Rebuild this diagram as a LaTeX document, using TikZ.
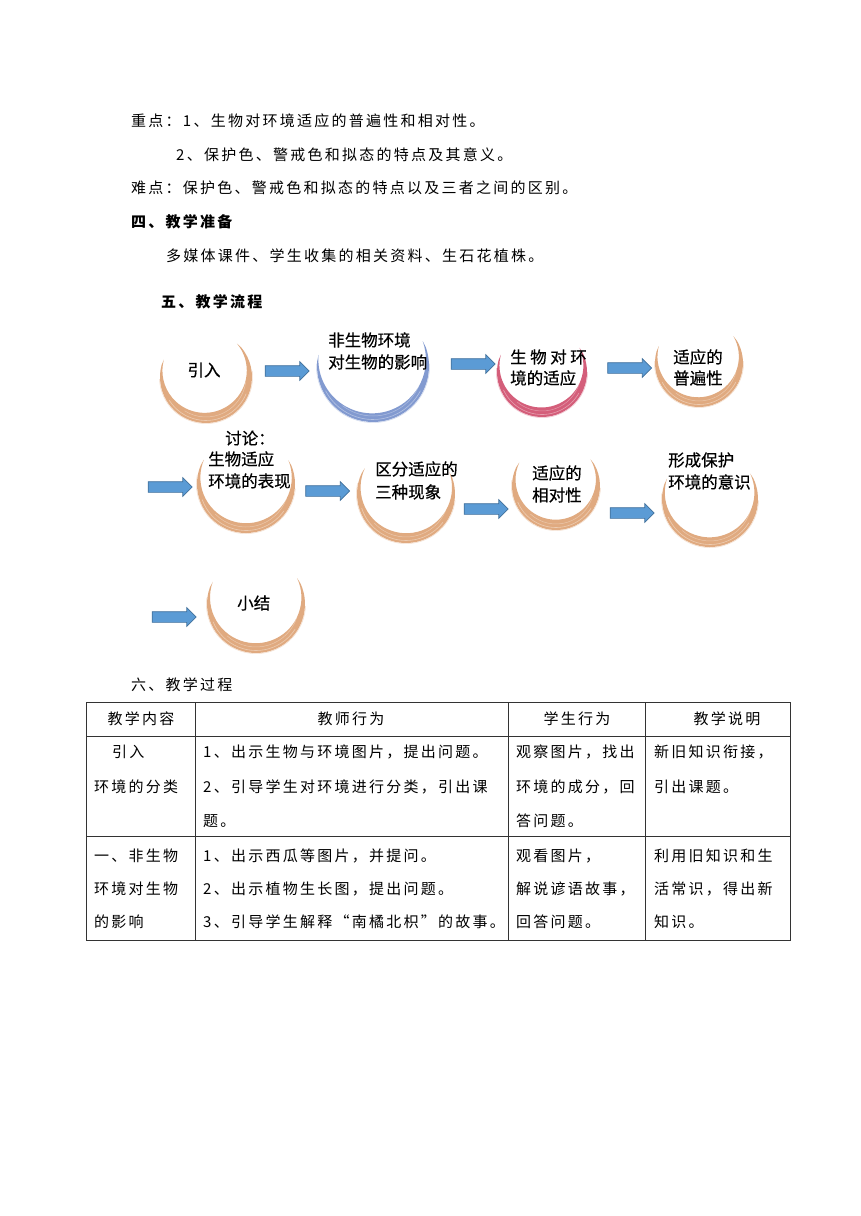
\documentclass[tikz,border=0pt]{standalone}
\usepackage{fontspec}
\usepackage{tikz}
\usetikzlibrary{calc,shapes.arrows}

\newfontfamily\bodyfont[LetterSpace=15]{Noto Sans CJK SC}
\newfontfamily\flowfont[FakeBold=0.5]{Noto Sans CJK SC}

\definecolor{brushorange}{RGB}{224,170,128}
\definecolor{brushblue}{RGB}{130,154,208}
\definecolor{brushred}{RGB}{212,94,122}
\definecolor{arrowfill}{RGB}{91,155,213}
\definecolor{arrowline}{RGB}{65,113,156}

\tikzset{
	bodytext/.style={anchor=west,inner sep=0pt,font=\bodyfont\fontsize{15}{18}\selectfont},
	headtext/.style={bodytext,font=\bodyfont\bfseries\fontsize{15}{18}\selectfont},
	flowtext/.style={anchor=west,inner sep=0pt,font=\flowfont\fontsize{16.5}{20}\selectfont},
	flowarrow/.style={single arrow,draw=arrowline,fill=arrowfill,line width=0.7pt,
		minimum height=44pt,minimum width=18pt,inner xsep=0pt,inner ysep=5pt,
		single arrow head extend=4pt,single arrow head indent=0pt},
	tableline/.style={black!80,line width=0.8pt}
}

% brush circle: name, centre, radius, colour, start angle, end angle
\newcommand{\brushring}[6]{%
	\coordinate (#1) at #2;
	\pgfmathsetmacro{\ringmid}{(#5+#6)/2}
	\pgfmathsetmacro{\ringhalf}{(#6-#5)/2}
	\pgfmathsetmacro{\ringt}{0.8-6.5*cos(\ringhalf)}
	\draw[#4!40,line width=0.5pt] ($(#1)+({\ringmid-100}:{#3+0.6})$) arc[start angle={\ringmid-100},end angle={\ringmid+85},radius={#3+0.6}];
	\fill[#4] ($(#1)+(#5:#3)$) arc[start angle=#5,end angle=#6,radius=#3]
		-- ($(#1)+({\ringmid+180}:6.5)+(#6:{#3-\ringt})$)
		arc[start angle=#6,end angle=#5,radius={#3-\ringt}] -- cycle;
	\draw[white,line width=0.6pt,opacity=0.4] ($(#1)+({\ringmid-70}:{#3-2.5})$) arc[start angle={\ringmid-70},end angle={\ringmid+55},radius={#3-2.5}];
	\draw[white,line width=0.5pt,opacity=0.35] ($(#1)+({\ringmid-45}:{#3-6})$) arc[start angle={\ringmid-45},end angle={\ringmid+70},radius={#3-6}];
}

\begin{document}
\begin{tikzpicture}[x=1pt,y=1pt]
	% page
	\fill[white] (0,0) rectangle (860,-1216);
	\useasboundingbox (0,0) rectangle (860,-1216);
	% text above the flow chart
	\node[bodytext] (key1) at (131,-121) {重点：1、生物对环境适应的普遍性和相对性。};
	\node[bodytext] (key2) at (176,-155) {2、保护色、警戒色和拟态的特点及其意义。};
	\node[bodytext] (hard) at (131,-188) {难点：保护色、警戒色和拟态的特点以及三者之间的区别。};
	\node[headtext] (prep) at (131,-222) {四、教学准备};
	\node[bodytext] (prepitems) at (166,-256) {多媒体课件、学生收集的相关资料、生石花植株。};
	\node[headtext] (flowtitle) at (161,-302) {五、教学流程};
	% brush circles
	\brushring{intro}{(206,-377)}{46}{brushorange}{165}{400}
	\brushring{abiotic}{(373,-366)}{56}{brushblue}{175}{380}
	\brushring{adapt}{(542,-372)}{45}{brushred}{165}{385}
	\brushring{general}{(699,-363)}{44}{brushorange}{165}{390}
	\brushring{discuss}{(246,-484)}{49}{brushorange}{157}{382}
	\brushring{threeways}{(406,-494)}{49}{brushorange}{155}{380}
	\brushring{relative}{(556,-486)}{44}{brushorange}{155}{390}
	\brushring{protect}{(710,-499)}{48}{brushorange}{162}{385}
	\brushring{summary}{(256,-604)}{49}{brushorange}{160}{385}
	% block arrows
	\foreach \name/\pos in {ar1/{(284.5,-371)},ar2/{(470.5,-364)},ar3/{(627,-368)},
		ar4/{(167.5,-487)},ar5/{(325,-491)},ar6/{(483.5,-509)},ar7/{(629.5,-513)},ar8/{(171.5,-617)}}
		\node[flowarrow] (\name) at \pos {};
	% flow chart labels
	\node[flowtext,anchor=center] (introtext) at (204,-370) {引入};
	\node[flowtext] (abiotic1) at (328,-340) {非生物环境};
	\node[flowtext] (abiotic2) at (328,-362) {对生物的影响};
	\node[flowtext] (adapt1) at (510,-357) {生\hspace{3.5pt}物\hspace{3.5pt}对\hspace{3.5pt}环};
	\node[flowtext] (adapt2) at (510,-378) {境的适应};
	\node[flowtext] (general1) at (673,-357) {适应的};
	\node[flowtext] (general2) at (673,-378) {普遍性};
	\node[flowtext] (discuss1) at (225,-438) {讨论：};
	\node[flowtext] (discuss2) at (208,-459) {生物适应};
	\node[flowtext] (discuss3) at (208,-481) {环境的表现};
	\node[flowtext] (threeways1) at (375,-469) {区分适应的};
	\node[flowtext] (threeways2) at (375,-492) {三种现象};
	\node[flowtext] (relative1) at (532,-473) {适应的};
	\node[flowtext] (relative2) at (532,-495) {相对性};
	\node[flowtext] (protect1) at (668,-460) {形成保护};
	\node[flowtext] (protect2) at (668,-482) {环境的意识};
	\node[flowtext] (summarytext) at (237,-603) {小结};
	% teaching process table
	\node[bodytext] (proctitle) at (131,-685) {六、教学过程};
	\draw[tableline] (86,-702) rectangle (790,-940);
	\draw[tableline] (86,-736) -- (790,-736);
	\draw[tableline] (86,-836) -- (790,-836);
	\foreach \x in {195,508,645}
		\draw[tableline] (\x,-702) -- (\x,-940);
	% header row
	\node[bodytext,anchor=center] (hcontent) at (141,-719) {教学内容};
	\node[bodytext,anchor=center] (hteacher) at (351,-719) {教师行为};
	\node[bodytext,anchor=center] (hstudent) at (577,-719) {学生行为};
	\node[bodytext,anchor=center] (hnote) at (727,-719) {教学说明};
	% row 1
	\node[bodytext] (r1c1a) at (112,-752) {引入};
	\node[bodytext] (r1c1b) at (94,-787) {环境的分类};
	\node[bodytext] (r1c2a) at (203,-752) {1、出示生物与环境图片，提出问题。};
	\node[bodytext] (r1c2b) at (203,-787) {2、引导学生对环境进行分类，引出课};
	\node[bodytext] (r1c2c) at (203,-821) {题。};
	\node[bodytext] (r1c3a) at (516,-752) {观察图片，找出};
	\node[bodytext] (r1c3b) at (516,-787) {环境的成分，回};
	\node[bodytext] (r1c3c) at (516,-821) {答问题。};
	\node[bodytext] (r1c4a) at (654,-752) {新旧知识衔接，};
	\node[bodytext] (r1c4b) at (654,-787) {引出课题。};
	% row 2
	\node[bodytext] (r2c1a) at (94,-856) {一、非生物};
	\node[bodytext] (r2c1b) at (94,-889) {环境对生物};
	\node[bodytext] (r2c1c) at (94,-922) {的影响};
	\node[bodytext] (r2c2a) at (203,-856) {1、出示西瓜等图片，并提问。};
	\node[bodytext] (r2c2b) at (203,-889) {2、出示植物生长图，提出问题。};
	\node[bodytext] (r2c2c) at (203,-922) {3、引导学生解释“南橘北枳”的故事。};
	\node[bodytext] (r2c3a) at (516,-856) {观看图片，};
	\node[bodytext] (r2c3b) at (516,-889) {解说谚语故事，};
	\node[bodytext] (r2c3c) at (516,-922) {回答问题。};
	\node[bodytext] (r2c4a) at (654,-856) {利用旧知识和生};
	\node[bodytext] (r2c4b) at (654,-889) {活常识，得出新};
	\node[bodytext] (r2c4c) at (654,-922) {知识。};
\end{tikzpicture}
\end{document}
